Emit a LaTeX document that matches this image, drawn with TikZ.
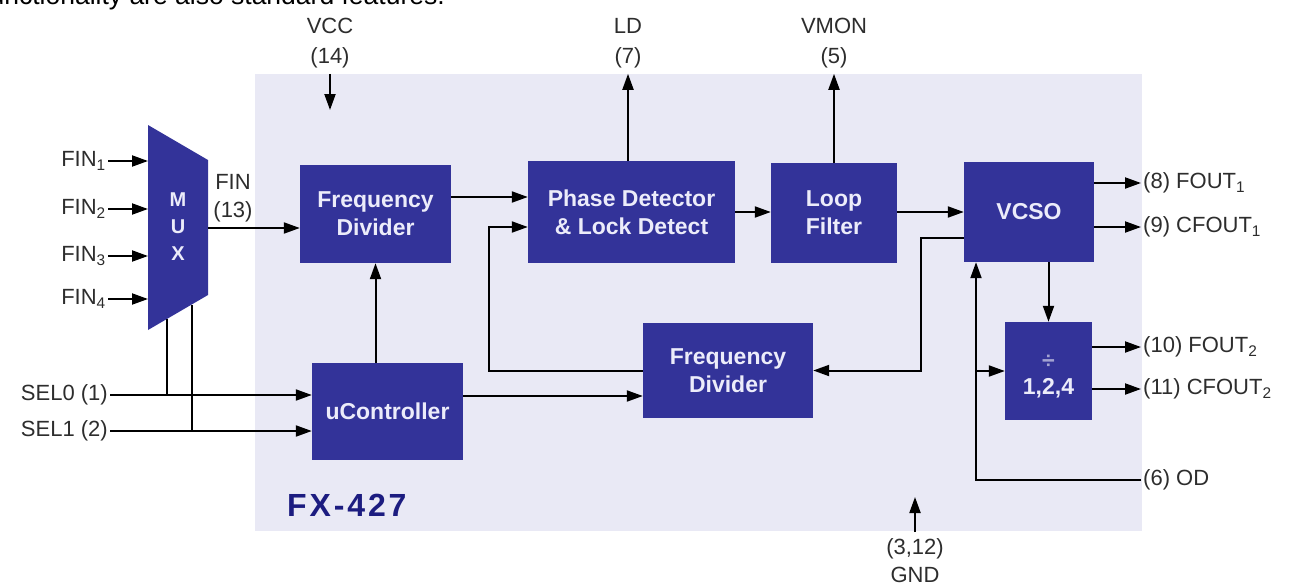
\documentclass[tikz,border=0pt]{standalone}
\usepackage{fontspec}
\setmainfont{Liberation Sans}
\newfontfamily\chipfont[LetterSpace=9]{Liberation Sans}
\usetikzlibrary{positioning, arrows.meta}
\definecolor{chipbg}{RGB}{233,233,245}
\definecolor{blockblue}{RGB}{51,51,153}
\definecolor{blocktext}{RGB}{236,236,250}
\definecolor{chipname}{RGB}{28,28,128}
\definecolor{pintext}{RGB}{45,45,45}

\tikzset{
	block/.style={fill=blockblue, text=blocktext, align=center, inner sep=0pt,
		font=\bfseries\fontsize{23}{28}\selectfont},
	pinlabel/.style={text=pintext, align=center, inner sep=2pt,
		font=\fontsize{22}{30}\selectfont},
	sig/.style={line width=2pt, -{Triangle[length=16pt,width=11pt]}},
	wire/.style={line width=2pt}
}

\begin{document}
\begin{tikzpicture}[x=1pt, y=-1pt]
			\useasboundingbox (0,0) rectangle (1292,584);
			% Text cut off above
			\node[anchor=base east, inner sep=0pt, font=\fontsize{26.5}{30}\selectfont] (topline) at (445,4) {functionality are also standard features.};
			% Chip
			\node[fill=chipbg, minimum width=887pt, minimum height=457pt, inner sep=0pt] (chip) at (698.5,302.5) {};
			\node[anchor=west, text=chipname, inner sep=0pt, font=\chipfont\bfseries\fontsize{32}{36}\selectfont] (chipname) at (287,505) {FX-427};
			% MUX
			\fill[blockblue] (148,125) -- (208,160) -- (208,295) -- (148,330) -- cycle;
			\node[text=blocktext, align=center, font=\bfseries\fontsize{20}{27}\selectfont] (mux) at (178,227) {M\\U\\X};
			\coordinate (muxout) at (208,228);
			% Blocks
			\node[block, minimum width=151pt, minimum height=98pt] (fdivA) at (375.5,214) {Frequency\\Divider};
			\node[block, minimum width=151pt, minimum height=97pt] (ctrl) at (387.5,411.5) {uController};
			\node[block, minimum width=207pt, minimum height=102pt] (phase) at (631.5,212) {Phase Detector\\\& Lock Detect};
			\node[block, minimum width=126pt, minimum height=100pt] (loop) at (834,213) {Loop\\Filter};
			\node[block, minimum width=130pt, minimum height=100pt] (vcso) at (1029,212) {VCSO};
			\node[block, minimum width=170pt, minimum height=95pt] (fdivB) at (728,370.5) {Frequency\\Divider};
			\node[block, minimum width=87pt, minimum height=98pt] (odiv) at (1048.5,371) {};
			\node[block, fill=none] (odivtext) at ([yshift=-6pt]odiv.center) {{\color{blockblue!45!white}÷}\\[-2pt]1,2,4};
			% Inputs
			\foreach \i/\y in {1/161, 2/209, 3/256, 4/299} {
				\node[pinlabel, anchor=east] (fin\i) at (108,\y) {FIN\textsubscript{\i}};
				\draw[sig] (fin\i.east) -- (148,\y);
			}
			\node[pinlabel, anchor=east] (sel0) at (110,395) {SEL0 (1)};
			\node[pinlabel, anchor=east] (sel1) at (110,431) {SEL1 (2)};
			\draw[sig] (sel0.east) -- (ctrl.west |- sel0.east);
			\draw[sig] (sel1.east) -- (ctrl.west |- sel1.east);
			\draw[wire] (167,319) -- (167,0 |- sel0.east);
			\draw[wire] (192,305) -- (192,0 |- sel1.east);
			\node[pinlabel, font=\fontsize{22}{28}\selectfont] (finlab) at (233,198) {FIN\\(13)};
			\draw[sig] (muxout) -- (muxout -| fdivA.west);
			% Supply pins
			\node[pinlabel] (vcc) at (330,43) {VCC\\(14)};
			\draw[sig] (vcc |- chip.north) -- (330,110);
			\node[pinlabel, font=\fontsize{22}{28}\selectfont] (gnd) at (915,561) {(3,12)\\GND};
			\draw[sig] (915,532) -- (915,497);
			% Top pins
			\node[pinlabel] (ld) at (628,43) {LD\\(7)};
			\node[pinlabel] (vmon) at (834,43) {VMON\\(5)};
			\draw[sig] (phase.north -| ld) -- (ld |- chip.north);
			\draw[sig] (loop.north) -- (loop.north |- chip.north);
			% Main loop
			\draw[sig] (fdivA.east |- 0,197) -- (phase.west |- 0,197);
			\draw[sig] (phase.east) -- (loop.west |- phase.east);
			\draw[sig] (loop.east |- phase.east) -- (vcso.west |- phase.east);
			\draw[sig] (fdivA.south |- ctrl.north) -- (fdivA.south);
			\draw[sig] (ctrl.east |- 0,396) -- (fdivB.west |- 0,396);
			% Feedback
			\draw[sig] (vcso.west |- 0,238) -- (921,238) |- (fdivB.east);
			\draw[sig] (fdivB.west) -| (489,227) -- (phase.west |- 0,227);
			% Outputs
			\node[pinlabel, anchor=west] (fout1) at (1141,183) {(8) FOUT\textsubscript{1}};
			\node[pinlabel, anchor=west] (cfout1) at (1141,227) {(9) CFOUT\textsubscript{1}};
			\node[pinlabel, anchor=west] (fout2) at (1141,347) {(10) FOUT\textsubscript{2}};
			\node[pinlabel, anchor=west] (cfout2) at (1141,389) {(11) CFOUT\textsubscript{2}};
			\node[pinlabel, anchor=west] (od) at (1141,480) {(6) OD};
			\draw[sig] (vcso.east |- fout1.west) -- (fout1.west);
			\draw[sig] (vcso.east |- cfout1.west) -- (cfout1.west);
			\draw[sig] (odiv.east |- fout2.west) -- (fout2.west);
			\draw[sig] (odiv.east |- cfout2.west) -- (cfout2.west);
			\draw[sig] (odiv.north |- vcso.south) -- (odiv.north);
			% Output divide select
			\coordinate (odx) at (976,480);
			\draw[sig] (od.west) -- (odx) -- (odx |- vcso.south);
			\draw[sig] (odiv.west -| odx) -- (odiv.west);
		\end{tikzpicture}
\end{document}
